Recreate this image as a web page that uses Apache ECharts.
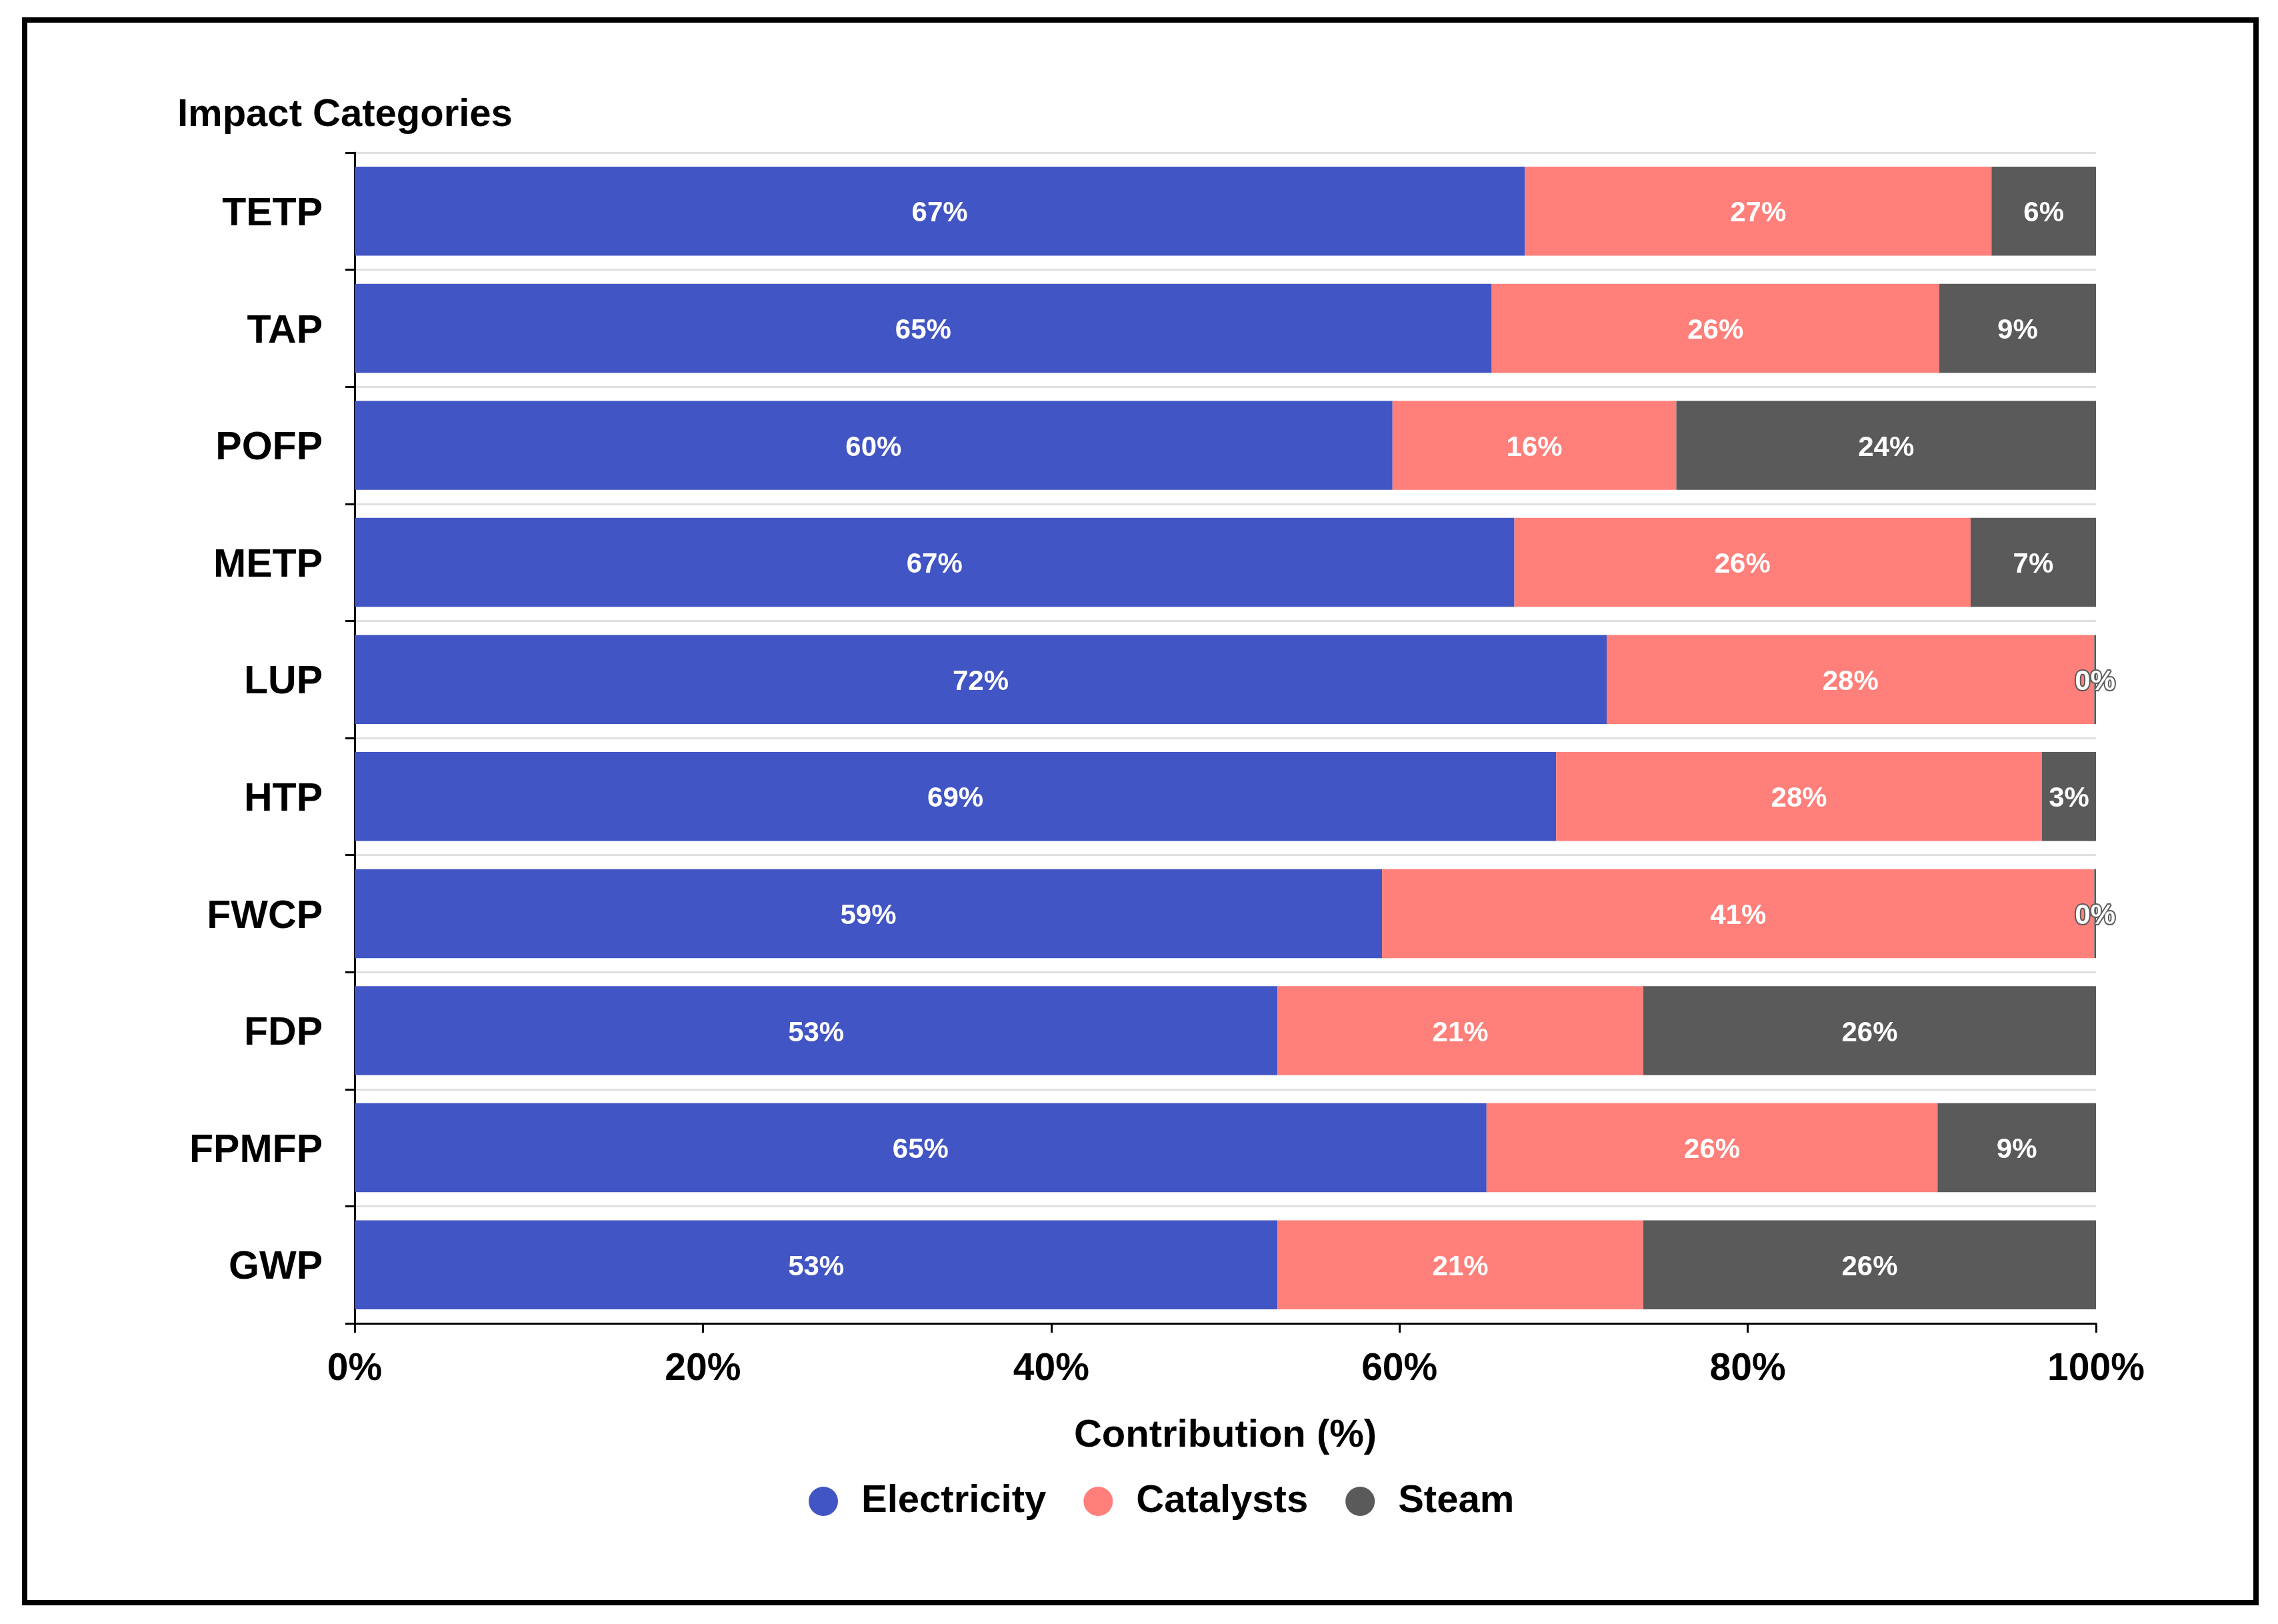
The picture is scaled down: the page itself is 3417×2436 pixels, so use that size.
<!DOCTYPE html>
<html>
<head>
<meta charset="utf-8">
<script src="https://cdn.jsdelivr.net/npm/echarts@6/dist/echarts.min.js"></script>
<style>
html,body{margin:0;padding:0;background:#fff;}
#c{width:3417px;height:2436px;}
</style>
</head>
<body>
<div id="c"></div>
<script>
const categories = ['TETP','TAP','POFP','METP','LUP','HTP','FWCP','FDP','FPMFP','GWP'];
const electricity = [67.2, 65.3, 59.6, 66.6, 71.9, 69.0, 59.0, 53.0, 65.0, 53.0];
const catalysts   = [26.8, 25.7, 16.3, 26.2, 28.0, 27.9, 40.9, 21.0, 25.9, 21.0];
const steam       = [6.0, 9.0, 24.1, 7.2, 0.1, 3.1, 0.1, 26.0, 9.1, 26.0];
const xTicks = [0, 20, 40, 60, 80, 100];

const FONT = '"Liberation Sans", Arial, Helvetica, sans-serif';
const chart = echarts.init(document.getElementById('c'), null, {renderer:'canvas'});

function mkSeries(name, data, color){
  return {
    name: name,
    type: 'bar',
    stack: 'total',
    data: data,
    barCategoryGap: '24%',
    itemStyle: {color: color},
    label: {
      show: true,
      position: 'inside',
      offset: [0, 4],
      formatter: p => Math.round(p.value) + '%',
      color: '#fff',
      fontFamily: FONT,
      fontWeight: 'bold',
      fontSize: 42,
      textBorderColor: 'inherit',
      textBorderWidth: 4
    }
  };
}

chart.setOption({
  animation: false,
  backgroundColor: '#fff',
  textStyle: {fontFamily: FONT},
  title: {
    text: 'Impact Categories',
    left: 266,
    top: 144,
    padding: 0,
    textStyle: {fontFamily: FONT, fontWeight: 'bold', fontSize: 58, color: '#000'}
  },
  grid: {left: 532, right: 273, top: 229, bottom: 451, containLabel: false},
  xAxis: {
    type: 'value',
    min: xTicks[0],
    max: xTicks[xTicks.length - 1],
    interval: 20,
    name: 'Contribution (%)',
    nameLocation: 'middle',
    nameGap: 140,
    nameTextStyle: {fontFamily: FONT, fontWeight: 'bold', fontSize: 58, color: '#000'},
    axisLine: {show: true, lineStyle: {color: '#000', width: 3}},
    axisTick: {show: true, length: 14, lineStyle: {color: '#000', width: 3}},
    axisLabel: {
      formatter: '{value}%',
      margin: 41,
      fontFamily: FONT, fontWeight: 'bold', fontSize: 57, color: '#000'
    },
    splitLine: {show: false}
  },
  yAxis: {
    type: 'category',
    inverse: true,
    data: categories,
    axisLine: {show: true, lineStyle: {color: '#000', width: 3}},
    axisTick: {show: true, length: 14, lineStyle: {color: '#000', width: 3}},
    axisLabel: {
      margin: 48,
      formatter: '{a|{value}}',
      rich: {a: {padding: [10, 0, 0, 0], fontFamily: FONT, fontWeight: 'bold', fontSize: 59, color: '#000'}},
      fontFamily: FONT, fontWeight: 'bold', fontSize: 59, color: '#000'
    },
    splitLine: {show: true, lineStyle: {color: '#E0E0E0', width: 3}}
  },
  legend: {
    data: ['Electricity','Catalysts','Steam'],
    left: 1208,
    top: 2218,
    icon: 'circle',
    itemWidth: 104,
    itemHeight: 44,
    itemGap: 56,
    textStyle: {fontFamily: FONT, fontWeight: 'bold', fontSize: 58, color: '#000'}
  },
  graphic: [{
    type: 'rect',
    shape: {x: 37, y: 30, width: 3347, height: 2374},
    style: {fill: 'none', stroke: '#000', lineWidth: 8},
    silent: true,
    z: 100
  }],
  series: [
    mkSeries('Electricity', electricity, '#4255C4'),
    mkSeries('Catalysts', catalysts, '#FF7F7A'),
    mkSeries('Steam', steam, '#5A5A5A')
  ]
});
</script>
</body>
</html>
